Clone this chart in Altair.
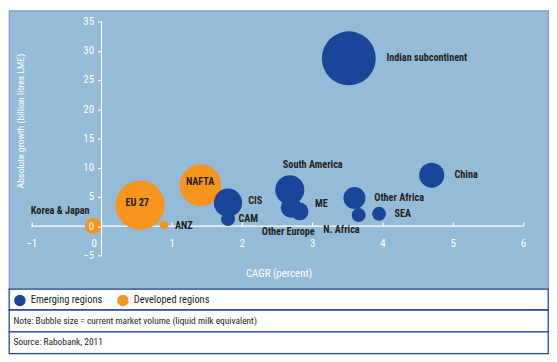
import altair as alt
import pandas as pd

# ---------------- data ----------------
regions = ["NAFTA", "EU 27", "ANZ", "Korea & Japan",
           "Indian subcontinent", "China", "South America", "CIS", "CAM",
           "Other Europe", "ME", "Other Africa", "N. Africa", "SEA"]
region_type = ["Developed regions"] * 4 + ["Emerging regions"] * 10
cagr = [1.41, 0.55, 0.89, -0.12, 3.52, 4.70, 2.68, 1.80, 1.80, 2.70, 2.82, 3.60, 3.66, 3.95]
growth = [7.0, 3.6, 0.2, 0.0, 28.7, 8.7, 6.2, 4.0, 1.2, 3.2, 2.5, 4.8, 1.9, 2.1]
volume = [72, 100, 3, 11, 120, 26, 35, 33, 8, 18, 13, 20, 8, 8]

x_ticks = [-1, 0, 1, 2, 3, 4, 5, 6]
y_ticks = [-5, 0, 5, 10, 15, 20, 25, 30, 35]
legend_labels = ["Emerging regions", "Developed regions"]
x_title = "CAGR (percent)"
y_title = "Absolute growth (billion litres LME)"
note_text = ["Note: Bubble size = current market volume (liquid milk equivalent)"]
source_text = ["Source: Rabobank, 2011"]

# ---------------- style / layout ----------------
BG = "#94bcd9"
BLUE = "#1b4598"
ORANGE = "#f7941d"
TEXT = "#231f20"
PANEL_BORDER = "#7d95c8"
ROW_BORDER = "#22489a"
FONT = "Roboto Condensed, Liberation Sans Narrow, Roboto, sans-serif"

W = 544
H_MAIN = 281
ROW_H = [21, 22, 22]
PX_X = 70.9
PX_Y = 5.9
X_LEFT_PX = 22.5
Y_TOP_PX = 11
x_lo = min(x_ticks) - X_LEFT_PX / PX_X
x_dom = [x_lo, x_lo + W / PX_X]
y_hi = max(y_ticks) + Y_TOP_PX / PX_Y
y_dom = [y_hi - H_MAIN / PX_Y, y_hi]
x0_px = (0 - x_lo) * PX_X
y0_px = (y_hi - 0) * PX_Y

# label placement (align, dx, dy) relative to bubble centre
label_style = {
    "Indian subcontinent": ("left", 38, 0),
    "China": ("left", 23, 0),
    "South America": ("left", -7, -25),
    "CIS": ("left", 20.5, -2),
    "CAM": ("left", 10.5, -0.5),
    "NAFTA": ("center", -0.5, -3.5),
    "EU 27": ("center", -3, -2),
    "ANZ": ("left", 11, 1.3),
    "Korea & Japan": ("right", -3.5, -15.5),
    "Other Africa": ("left", 20, 0.3),
    "SEA": ("left", 15.5, 0),
    "N. Africa": ("right", 1, 15),
    "ME": ("left", 15.5, -7.3),
    "Other Europe": ("center", -3, 24.5),
}

df = pd.DataFrame({"region": regions, "type": region_type, "cagr": cagr,
                   "growth": growth, "volume": volume, "idx": range(len(regions))})

xs = alt.Scale(domain=x_dom, nice=False, zero=False)
ys = alt.Scale(domain=y_dom, nice=False, zero=False)

x_axis = alt.Axis(
    orient="top", values=x_ticks, offset=-y0_px, domain=False, grid=False,
    tickSize=4, tickColor="white", tickWidth=1.2, minExtent=0,
    labelColor="white", labelFont=FONT, labelFontSize=11,
    labelPadding=-(4 + 17.5), labelBaseline="middle", labelAlign="center",
    labelFlush=False, labelOverlap=False, format="d", zindex=1,
    labelOffset={"condition": {"test": "datum.value === 0", "value": -8}, "value": 0},
    title=x_title, titleX=272, titleY=47.5, titleColor="white", titleFont=FONT,
    titleFontSize=11, titleFontWeight="normal", titleAlign="center", titleBaseline="middle")
y_axis = alt.Axis(
    orient="left", values=y_ticks, offset=-x0_px, domain=False, grid=False,
    tickSize=4, tickColor="white", tickWidth=1.2, minExtent=0,
    labelColor="white", labelFont=FONT, labelFontSize=11, labelPadding=4,
    labelFlush=False, labelOverlap=False, format="d", zindex=1,
    title=y_title, titleX=12 - x0_px, titleY=111, titleAngle=270,
    titleColor="white", titleFont=FONT, titleFontSize=9.8, titleFontWeight="normal",
    titleAlign="center", titleBaseline="middle")

axes_df = pd.DataFrame({"cagr": [min(x_ticks), 0], "cagr2": [max(x_ticks), 0],
                        "growth": [0, min(y_ticks)], "growth2": [0, max(y_ticks)]})
axis_lines = alt.Chart(axes_df).mark_rule(color="white", strokeWidth=1.2).encode(
    x=alt.X("cagr:Q", scale=xs, axis=x_axis), x2="cagr2:Q",
    y=alt.Y("growth:Q", scale=ys, axis=y_axis), y2="growth2:Q")

bubbles = alt.Chart(df).mark_circle(opacity=1, strokeWidth=0).encode(
    x=alt.X("cagr:Q", scale=xs, axis=x_axis),
    y=alt.Y("growth:Q", scale=ys, axis=y_axis),
    size=alt.Size("volume:Q", scale=alt.Scale(domain=[0, 120], range=[0, 2961]), legend=None),
    color=alt.Color("type:N", scale=alt.Scale(domain=legend_labels, range=[BLUE, ORANGE]),
                    legend=alt.Legend(orient="none", legendX=5, legendY=286.5,
                                      direction="horizontal", title=None,
                                      symbolType="circle", symbolSize=135,
                                      symbolStrokeWidth=0, labelFont=FONT,
                                      labelFontSize=10.5, labelColor=TEXT,
                                      labelOffset=5, columnPadding=14, padding=0)),
    order=alt.Order("idx:Q"),
)

label_layers = []
for name, (al, dx, dy) in label_style.items():
    label_layers.append(
        alt.Chart(df).transform_filter(alt.datum.region == name).mark_text(
            align=al, baseline="middle", dx=dx, dy=dy, font=FONT, fontSize=10.3,
            fontWeight="bold", color=TEXT).encode(
            x=alt.X("cagr:Q", scale=xs, axis=x_axis),
            y=alt.Y("growth:Q", scale=ys, axis=y_axis),
            text="region:N"))

main = alt.layer(axis_lines, bubbles, *label_layers).properties(
    width=W, height=H_MAIN,
    view=alt.ViewBackground(fill=BG, stroke=PANEL_BORDER, strokeWidth=1.2))

row_view = alt.ViewBackground(fill="white", stroke=ROW_BORDER, strokeWidth=1.3)

row1 = alt.Chart(pd.DataFrame({"t": [""]})).mark_text().encode(
    text="t:N", x=alt.value(0), y=alt.value(0)).properties(width=W, height=ROW_H[0], view=row_view)
row2 = alt.Chart(pd.DataFrame({"t": note_text})).mark_text(
    align="left", baseline="middle", font=FONT, fontSize=9.5, color=TEXT).encode(
    text="t:N", x=alt.value(4.5), y=alt.value(11.5)).properties(width=W, height=ROW_H[1], view=row_view)
row3 = alt.Chart(pd.DataFrame({"t": source_text})).mark_text(
    align="left", baseline="middle", font=FONT, fontSize=9.5, color=TEXT).encode(
    text="t:N", x=alt.value(4.5), y=alt.value(10.5)).properties(width=W, height=ROW_H[2], view=row_view)

chart = alt.vconcat(main, row1, row2, row3, spacing=0, bounds="flush").properties(
    padding=0, background="white")

chart.save("out.html", embed_options={"renderer": "svg", "actions": False})
